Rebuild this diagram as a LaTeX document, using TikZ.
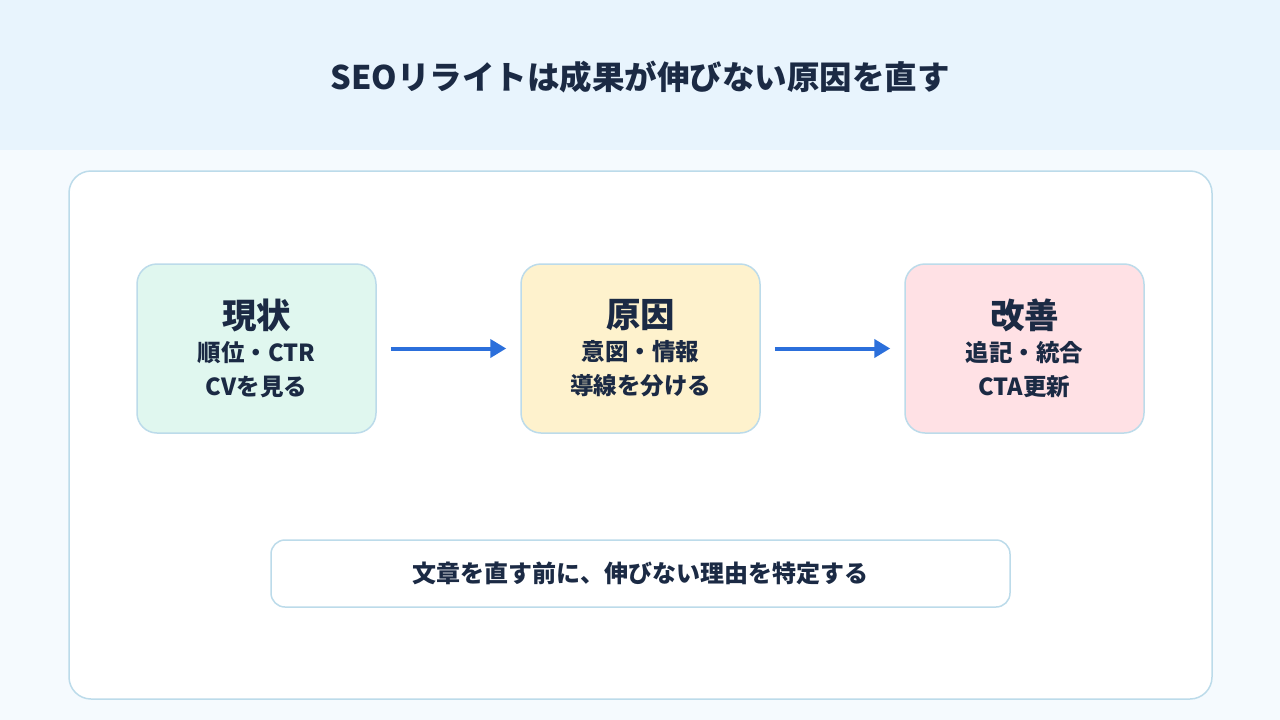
\documentclass[tikz,border=0pt]{standalone}
\usepackage{fontspec}
\setmainfont{Noto Sans CJK JP}
\usetikzlibrary{arrows.meta}
\definecolor{ink}{HTML}{1B2A44}
\definecolor{headbg}{HTML}{E8F4FD}
\definecolor{pagebg}{HTML}{F5FAFE}
\definecolor{edgeblue}{HTML}{BCDBEA}
\definecolor{flowblue}{HTML}{2B6FDB}
\definecolor{mint}{HTML}{E0F7EF}
\definecolor{cream}{HTML}{FEF2CD}
\definecolor{blush}{HTML}{FFE1E5}
\newcommand{\stagehead}[1]{{\fontsize{34.5}{38}\selectfont #1}\\[-1pt]}
\begin{document}
\begin{tikzpicture}[x=1pt, y=-1pt, node distance=384pt,
    stage/.style={draw=edgeblue, line width=1.5pt, rounded corners=20pt, minimum width=239pt, minimum height=169pt, align=center, text=ink, font=\bfseries\fontsize{23.5}{34}\selectfont},
    flowarrow/.style={-{Triangle[length=16pt,width=18pt]}, draw=flowblue, line width=4pt, shorten <=14pt, shorten >=14pt}]
    % background and header band
    \fill[pagebg] (0,0) rectangle (1280,720);
    \fill[headbg] (0,0) rectangle (1280,150);
    \node (title) [text=ink, font=\bfseries\fontsize{32.5}{38}\selectfont] at (640,77) {SEOリライトは成果が伸びない原因を直す};
    % main panel
    \draw[draw=edgeblue, fill=white, line width=1.5pt, rounded corners=22pt] (69,171) rectangle (1212,699);
    \node (now) [stage, fill=mint] at (256.5,348.5) {\stagehead{現状}順位・CTR\\CVを見る};
    \node (cause) [stage, fill=cream, right of=now] {\stagehead{原因}意図・情報\\導線を分ける};
    \node (fix) [stage, fill=blush, right of=cause] {\stagehead{改善}追記・統合\\CTA更新};
    \draw[flowarrow] (now) -- (cause);
    \draw[flowarrow] (cause) -- (fix);
    \node (note) [draw=edgeblue, fill=white, line width=1.5pt, rounded corners=14pt, minimum width=739pt, minimum height=67pt, text=ink, font=\bfseries\fontsize{24}{28}\selectfont] at (640.5,573.5) {文章を直す前に、伸びない理由を特定する};
  \end{tikzpicture}
\end{document}
